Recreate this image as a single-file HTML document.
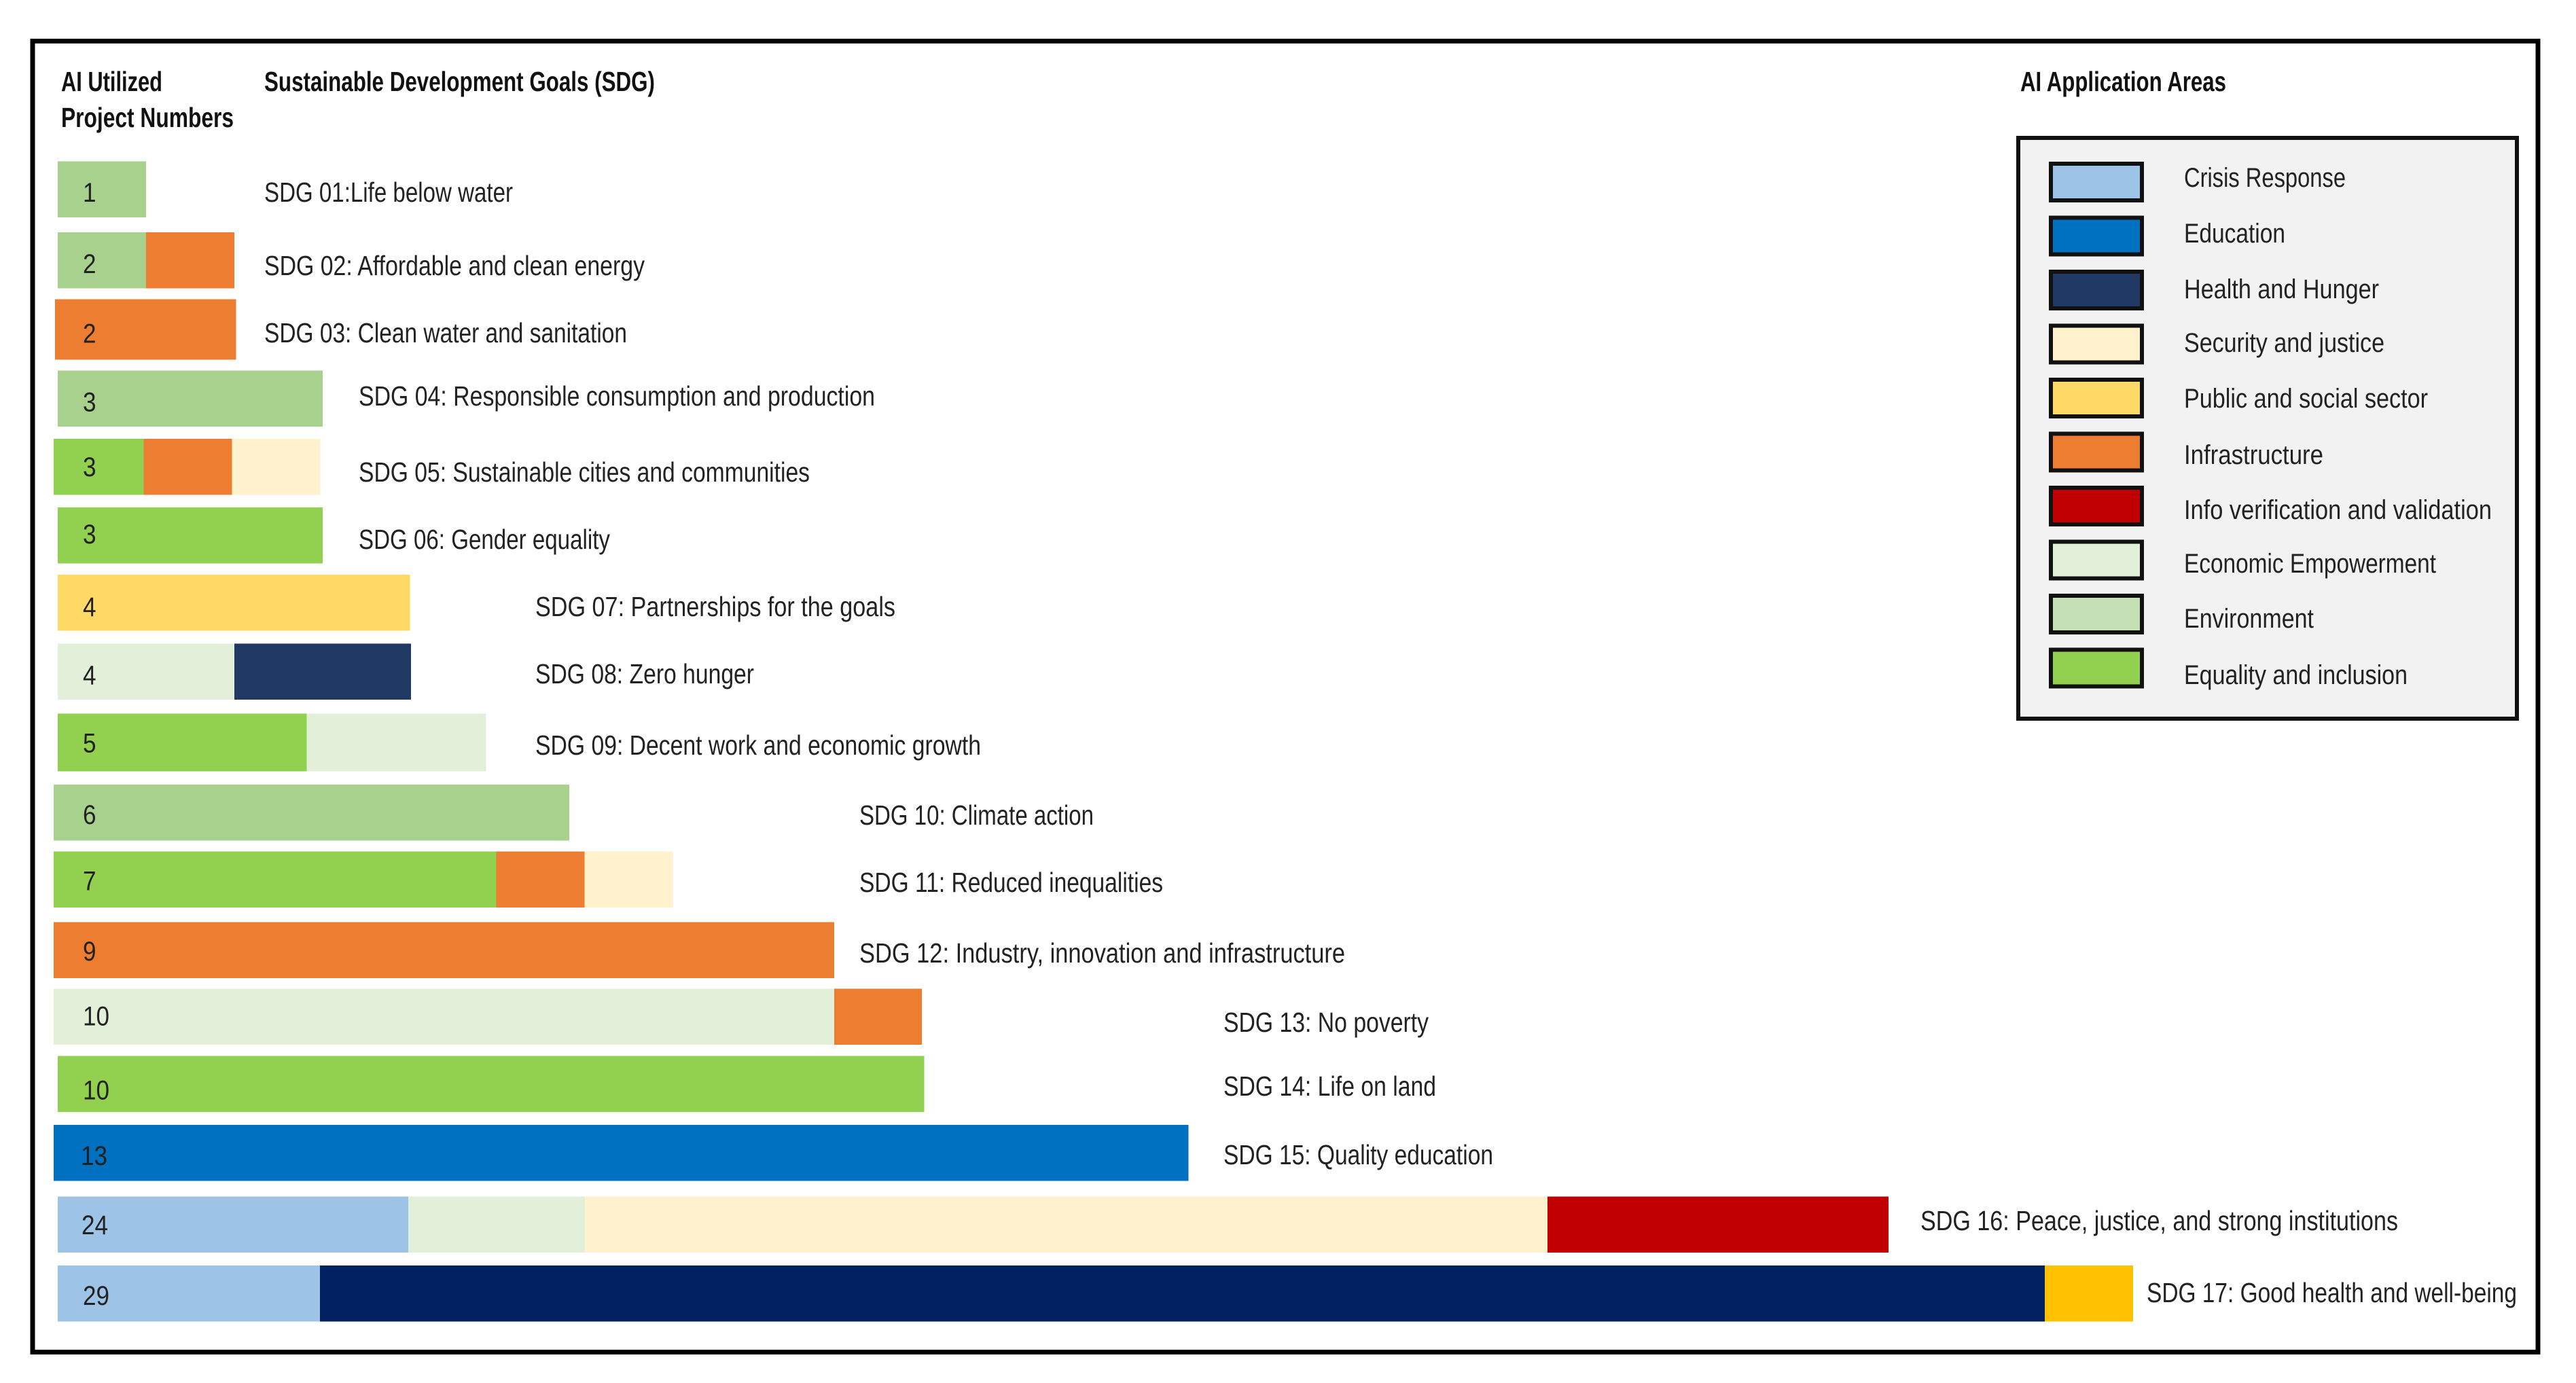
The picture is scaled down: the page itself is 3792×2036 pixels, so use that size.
<!DOCTYPE html>
<html lang="en">
<head>
<meta charset="utf-8">
<title>AI utilized project numbers by Sustainable Development Goal</title>
<style>
  html, body { margin: 0; padding: 0; background: #fff; }
  svg { display: block; }
  text { font-family: "Liberation Sans", sans-serif; fill: #222; }
  .head { font-size: 41px; font-weight: bold; fill: #111; }
  .sdg { font-size: 41px; }
  .leg { font-size: 40px; }
  .val { font-size: 40px; }
  .seg { shape-rendering: crispEdges; }
  .sw { stroke: #111; stroke-width: 6; }
  #row-2 { transform: translate(0, 3px); }
  #row-3 { transform: translate(-4px, 0); }
  #row-3 rect { height: 89px; }
  #row-4 { transform: translate(0, 3px); }
  #row-5 { transform: translate(-6px, 2px); }
  #row-6 { transform: translate(0, 1.5px); }
  #row-7 { transform: translate(0, -1px); }
  #row-8 { transform: translate(0, -1px); }
  #row-9 rect { height: 85px; }
  #row-10 { transform: translate(-6px, 3px); }
  #row-11 { transform: translate(-6px, 0); }
  #row-12 { transform: translate(-6px, 2.5px); }
  #row-13 { transform: translate(-6px, -1px); }
  #row-14 { transform: translate(0, -4px); }
  #row-15 { transform: translate(-6px, -4px); }
  #val-1 { transform: translate(0, 1.5px); }
  #val-2 { transform: translate(0, 5px); }
  #val-3 { transform: translate(0, 6px); }
  #val-4 { transform: translate(0, 5px); }
  #val-5 { transform: translate(0, -1px); }
  #val-6 { transform: translate(0, -3.5px); }
  #val-7 { transform: translate(0, 2px); }
  #val-8 { transform: translate(0, 1px); }
  #val-9 { transform: translate(0, -1px); }
  #val-10 { transform: translate(0, 3px); }
  #val-11 { transform: translate(0, -1px); }
  #val-12 { transform: translate(0, 1px); }
  #val-13 { transform: translate(0, -5px); }
  #val-14 { transform: translate(0, 2px); }
  #val-15 { transform: translate(-3px, -3px); }
  #val-16 { transform: translate(-2px, -2.5px); }
</style>
</head>
<body>
<svg id="chart" xmlns="http://www.w3.org/2000/svg" width="3792" height="2036" viewBox="0 0 3792 2036">
  <rect x="0" y="0" width="3792" height="2036" fill="#ffffff"/>
  <rect x="48" y="60.5" width="3688" height="1930" fill="#ffffff" stroke="#000000" stroke-width="7"/>

  <text class="head" x="90" y="134" textLength="149" lengthAdjust="spacingAndGlyphs">AI Utilized</text>
  <text class="head" x="90" y="187" textLength="254" lengthAdjust="spacingAndGlyphs">Project Numbers</text>
  <text class="head" x="389" y="134" textLength="575" lengthAdjust="spacingAndGlyphs">Sustainable Development Goals (SDG)</text>
  <text class="head" x="2974" y="134" textLength="303" lengthAdjust="spacingAndGlyphs">AI Application Areas</text>

  <g id="bars"></g>
  <g id="values"></g>

  <g>
    <text class="sdg" x="389" y="297" textLength="366" lengthAdjust="spacingAndGlyphs">SDG 01:Life below water</text>
    <text class="sdg" x="389" y="405" textLength="560" lengthAdjust="spacingAndGlyphs">SDG 02: Affordable and clean energy</text>
    <text class="sdg" x="389" y="504" textLength="534" lengthAdjust="spacingAndGlyphs">SDG 03: Clean water and sanitation</text>
    <text class="sdg" x="528" y="597" textLength="760" lengthAdjust="spacingAndGlyphs">SDG 04: Responsible consumption and production</text>
    <text class="sdg" x="528" y="709" textLength="664" lengthAdjust="spacingAndGlyphs">SDG 05: Sustainable cities and communities</text>
    <text class="sdg" x="528" y="808" textLength="370" lengthAdjust="spacingAndGlyphs">SDG 06: Gender equality</text>
    <text class="sdg" x="788" y="907" textLength="530" lengthAdjust="spacingAndGlyphs">SDG 07: Partnerships for the goals</text>
    <text class="sdg" x="788" y="1006" textLength="322" lengthAdjust="spacingAndGlyphs">SDG 08: Zero hunger</text>
    <text class="sdg" x="788" y="1111" textLength="656" lengthAdjust="spacingAndGlyphs">SDG 09: Decent work and economic growth</text>
    <text class="sdg" x="1265" y="1214" textLength="345" lengthAdjust="spacingAndGlyphs">SDG 10: Climate action</text>
    <text class="sdg" x="1265" y="1313" textLength="447" lengthAdjust="spacingAndGlyphs">SDG 11: Reduced inequalities</text>
    <text class="sdg" x="1265" y="1417" textLength="715" lengthAdjust="spacingAndGlyphs">SDG 12: Industry, innovation and infrastructure</text>
    <text class="sdg" x="1801" y="1519" textLength="302" lengthAdjust="spacingAndGlyphs">SDG 13: No poverty</text>
    <text class="sdg" x="1801" y="1613" textLength="313" lengthAdjust="spacingAndGlyphs">SDG 14: Life on land</text>
    <text class="sdg" x="1801" y="1714" textLength="397" lengthAdjust="spacingAndGlyphs">SDG 15: Quality education</text>
    <text class="sdg" x="2827" y="1811" textLength="703" lengthAdjust="spacingAndGlyphs">SDG 16: Peace, justice, and strong institutions</text>
    <text class="sdg" x="3160" y="1917" textLength="545" lengthAdjust="spacingAndGlyphs">SDG 17: Good health and well-being</text>
  </g>

  <g>
    <rect x="2971" y="203" width="734" height="855" fill="#f2f2f2" stroke="#111111" stroke-width="6"/>

    <g>
      <rect class="sw" x="3019" y="241" width="134" height="54" fill="#9dc3e6"/>
      <text class="leg" x="3215" y="275" textLength="238" lengthAdjust="spacingAndGlyphs">Crisis Response</text>
    </g>
    <g>
      <rect class="sw" x="3019" y="320.5" width="134" height="54" fill="#0070c0"/>
      <text class="leg" x="3215" y="357" textLength="149" lengthAdjust="spacingAndGlyphs">Education</text>
    </g>
    <g>
      <rect class="sw" x="3019" y="400" width="134" height="54" fill="#1f3864"/>
      <text class="leg" x="3215" y="439" textLength="287" lengthAdjust="spacingAndGlyphs">Health and Hunger</text>
    </g>
    <g>
      <rect class="sw" x="3019" y="479.5" width="134" height="54" fill="#fff2cc"/>
      <text class="leg" x="3215" y="518" textLength="295" lengthAdjust="spacingAndGlyphs">Security and justice</text>
    </g>
    <g>
      <rect class="sw" x="3019" y="559" width="134" height="54" fill="#ffd966"/>
      <text class="leg" x="3215" y="600" textLength="359" lengthAdjust="spacingAndGlyphs">Public and social sector</text>
    </g>
    <g>
      <rect class="sw" x="3019" y="638.5" width="134" height="54" fill="#ed7d31"/>
      <text class="leg" x="3215" y="683" textLength="205" lengthAdjust="spacingAndGlyphs">Infrastructure</text>
    </g>
    <g>
      <rect class="sw" x="3019" y="718" width="134" height="54" fill="#c00000"/>
      <text class="leg" x="3215" y="764" textLength="453" lengthAdjust="spacingAndGlyphs">Info verification and validation</text>
    </g>
    <g>
      <rect class="sw" x="3019" y="797.5" width="134" height="54" fill="#e2f0d9"/>
      <text class="leg" x="3215" y="843" textLength="371" lengthAdjust="spacingAndGlyphs">Economic Empowerment</text>
    </g>
    <g>
      <rect class="sw" x="3019" y="877" width="134" height="54" fill="#c5e0b4"/>
      <text class="leg" x="3215" y="924" textLength="191" lengthAdjust="spacingAndGlyphs">Environment</text>
    </g>
    <g>
      <rect class="sw" x="3019" y="956.5" width="134" height="54" fill="#92d050"/>
      <text class="leg" x="3215" y="1007" textLength="329" lengthAdjust="spacingAndGlyphs">Equality and inclusion</text>
    </g>
  </g>
</svg>

<script>
// Printed project count for each SDG row (top to bottom).
const projectCounts = [1, 2, 2, 3, 3, 3, 4, 4, 5, 6, 7, 9, 10, 10, 13, 24, 29];

// Application area of each stacked segment, per row.
const segmentAreas = [
  ["environment"],
  ["environment", "infrastructure"],
  ["infrastructure"],
  ["environment"],
  ["equality", "infrastructure", "security"],
  ["equality"],
  ["public"],
  ["economic", "health"],
  ["equality", "economic"],
  ["environment"],
  ["equality", "infrastructure", "security"],
  ["infrastructure"],
  ["economic", "infrastructure"],
  ["equality"],
  ["education"],
  ["crisis", "economic", "security", "verification"],
  ["crisis", "healthDeep", "publicDeep"]
];

// Drawn length of each segment in bar units.
const segmentValues = [
  [1],
  [1, 1],
  [2.05],
  [3],
  [1.02, 1, 1],
  [3],
  [3.99],
  [2, 2],
  [2.82, 2.03],
  [5.84],
  [5.01, 1, 1],
  [8.84],
  [8.84, 0.99],
  [9.81],
  [12.85],
  [3.97, 2, 10.9, 3.86],
  [2.97, 19.53, 1]
];

const areaColors = {
  crisis: "#9dc3e6",
  education: "#0070c0",
  health: "#1f3864",
  healthDeep: "#002060",
  security: "#fff2cc",
  public: "#ffd966",
  publicDeep: "#ffc000",
  infrastructure: "#ed7d31",
  verification: "#c00000",
  economic: "#e2f0d9",
  environment: "#a9d18e",
  equality: "#92d050"
};

const SVG_NS = "http://www.w3.org/2000/svg";
const xAxis = function (v) { return 85 + v * 130; };
const yAxis = function (i) { return 237.5 + i * 101.6; };

const barsLayer = document.getElementById("bars");
const valuesLayer = document.getElementById("values");

projectCounts.forEach(function (count, i) {
  const rowNumber = i + 1;

  const row = document.createElementNS(SVG_NS, "g");
  row.setAttribute("id", "row-" + rowNumber);
  
  

  let cumulative = 0;
  segmentValues[i].forEach(function (value, j) {
    const area = segmentAreas[i][j];
    const seg = document.createElementNS(SVG_NS, "rect");
    seg.setAttribute("class", "seg");
    seg.setAttribute("x", xAxis(cumulative));
    seg.setAttribute("y", yAxis(i));
    seg.setAttribute("width", xAxis(cumulative + value) - xAxis(cumulative));
    seg.setAttribute("height", 82.5);
    seg.setAttribute("fill", areaColors[area]);
    
    
    row.appendChild(seg);
    cumulative += value;
  });
  barsLayer.appendChild(row);

  const label = document.createElementNS(SVG_NS, "text");
  label.setAttribute("id", "val-" + rowNumber);
  label.setAttribute("class", "val");
  label.setAttribute("x", 122);
  label.setAttribute("y", yAxis(i) + 58);
  label.setAttribute("textLength", String(count).length * 19.5);
  label.setAttribute("lengthAdjust", "spacingAndGlyphs");
  
  
  label.textContent = count;
  valuesLayer.appendChild(label);
});
</script>
</body>
</html>
